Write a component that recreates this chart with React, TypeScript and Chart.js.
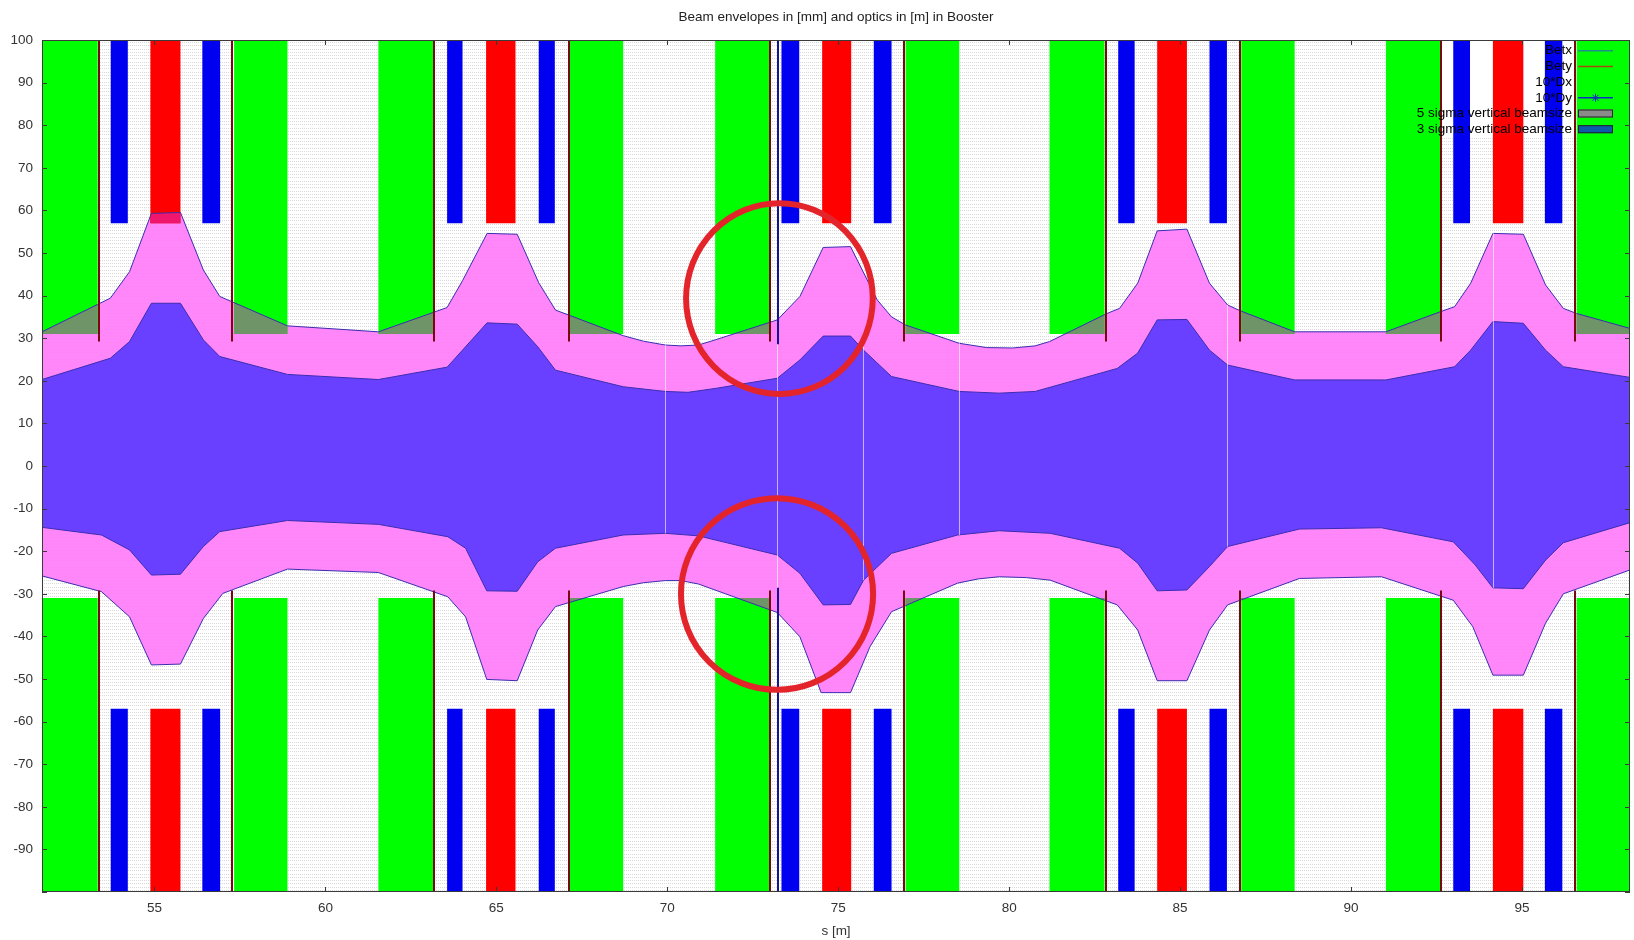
import { useEffect, useRef } from 'react';
import { Chart, registerables } from 'chart.js';

Chart.register(...registerables);

const FONT = "'Liberation Sans', Arial, Helvetica, sans-serif";
const TITLE = 'Beam envelopes in [mm] and optics in [m] in Booster';
const X_LABEL = 's [m]';
const S_MIN = 51.71;
const S_MAX = 98.16;
const Y_MIN = -100;
const Y_MAX = 100;

// 5 sigma vertical beam envelope, upper edge
const U5_S = [51.71, 53.71, 54.27, 54.91, 55.76, 56.43, 56.91, 58.89, 61.55, 63.56, 64.01, 64.73, 65.61, 66.24, 66.73, 68.71, 69.3, 69.94, 70.4, 70.91, 71.4, 73.22, 73.88, 74.56, 75.36, 76.14, 76.56, 76.97, 78.54, 79.34, 80.1, 80.76, 81.18, 82.86, 83.23, 83.76, 84.33, 85.2, 85.86, 86.39, 86.74, 88.35, 91.02, 92.61, 93.03, 93.5, 94.15, 95.04, 95.69, 96.21, 96.6, 98.16];
const U5_V = [31.5, 39.4, 45.6, 59.3, 59.5, 46.0, 39.8, 32.9, 31.5, 37.2, 43.5, 54.6, 54.4, 43.0, 36.6, 30.6, 29.3, 28.4, 28.2, 28.4, 29.6, 34.3, 39.8, 51.3, 51.5, 39.0, 35.0, 33.1, 28.8, 27.8, 27.7, 28.2, 29.2, 35.8, 37.0, 42.9, 55.2, 55.6, 42.9, 37.8, 36.5, 31.5, 31.5, 36.2, 37.4, 42.9, 54.6, 54.4, 42.5, 37.0, 35.8, 32.3];

// 3 sigma vertical beam envelope, upper edge
const U3_S = [51.71, 53.71, 54.27, 54.91, 55.76, 56.43, 56.91, 58.89, 61.55, 63.56, 64.01, 64.73, 65.61, 66.21, 66.73, 68.71, 69.94, 70.61, 71.4, 73.22, 73.88, 74.56, 75.36, 75.74, 76.56, 78.54, 79.71, 80.76, 83.16, 83.76, 84.33, 85.2, 85.86, 86.39, 88.35, 91.02, 93.03, 93.5, 94.15, 95.04, 95.69, 96.21, 98.16];
const U3_V = [20.3, 25.3, 29.2, 38.2, 38.2, 29.6, 25.7, 21.5, 20.3, 23.2, 27.2, 33.6, 33.3, 28.0, 22.5, 18.6, 17.5, 17.3, 18.2, 20.6, 24.9, 30.5, 30.5, 27.2, 21.0, 17.5, 17.1, 17.5, 22.9, 26.5, 34.3, 34.4, 27.2, 23.7, 20.2, 20.2, 23.3, 27.2, 33.9, 33.5, 27.2, 23.3, 20.8];

// 3 sigma vertical beam envelope, lower edge
const L3_S = [51.71, 53.45, 54.27, 54.91, 55.76, 56.43, 56.91, 58.89, 61.55, 63.58, 64.1, 64.72, 65.61, 66.21, 66.73, 68.71, 69.94, 70.91, 73.22, 73.88, 74.56, 75.36, 75.74, 76.56, 78.49, 79.71, 81.2, 83.23, 83.76, 84.33, 85.2, 85.86, 86.39, 88.49, 90.89, 92.99, 93.63, 94.15, 95.04, 95.69, 96.21, 98.16];
const L3_V = [-14.4, -16.2, -19.7, -25.6, -25.4, -18.9, -15.4, -12.8, -13.7, -16.6, -19.3, -29.3, -29.4, -22.5, -19.3, -16.2, -15.8, -16.4, -20.9, -25.2, -32.6, -32.5, -26.8, -20.5, -16.2, -15.2, -15.8, -19.3, -22.8, -29.3, -29.1, -23.6, -18.9, -14.8, -14.5, -17.8, -23.2, -28.6, -28.8, -22.1, -18.0, -13.3];

// 5 sigma vertical beam envelope, lower edge
const L5_S = [51.71, 53.45, 54.27, 54.91, 55.76, 56.43, 57.0, 58.89, 61.55, 63.58, 64.1, 64.72, 65.61, 66.21, 66.73, 68.71, 69.3, 69.94, 70.4, 70.91, 73.22, 73.88, 74.5, 75.36, 75.93, 76.56, 78.49, 79.1, 79.71, 80.5, 81.2, 83.16, 83.76, 84.33, 85.2, 85.86, 86.39, 88.49, 90.89, 92.99, 93.56, 94.15, 95.04, 95.69, 96.21, 98.16];
const L5_V = [-25.8, -29.5, -35.4, -46.7, -46.5, -35.8, -29.9, -24.2, -25.0, -30.7, -35.4, -50.1, -50.4, -38.5, -33.0, -28.3, -27.4, -26.9, -26.9, -27.7, -34.4, -40.1, -53.2, -53.2, -42.4, -34.2, -27.5, -26.5, -26.0, -26.2, -26.8, -32.6, -38.5, -50.4, -50.4, -38.5, -32.6, -26.4, -26.0, -31.5, -37.7, -49.1, -49.1, -36.9, -30.0, -24.4];

// dipoles (green)
const DIPOLE_START = [51.5, 57.33, 61.55, 67.15, 71.4, 76.97, 81.18, 86.79, 91.02, 96.6];
const DIPOLE_END = [53.34, 58.89, 63.15, 68.71, 73.0, 78.54, 82.79, 88.35, 92.61, 98.3];
const DIPOLE_APERTURE = 31;
// focusing quadrupoles (red)
const QF_START = [54.88, 64.7, 74.53, 84.33, 94.15];
const QF_END = [55.76, 65.56, 75.38, 85.2, 95.04];
// defocusing quadrupoles (blue)
const QD_START = [53.72, 56.4, 63.56, 66.24, 73.34, 76.04, 83.19, 85.86, 92.99, 95.67];
const QD_END = [54.22, 56.92, 64.01, 66.71, 73.86, 76.56, 83.67, 86.37, 93.48, 96.18];
const QUAD_APERTURE = 57;
// thin markers (dark red)
const MARKER_S = [53.39, 57.28, 63.18, 67.12, 73.0, 76.91, 82.82, 86.74, 92.64, 96.54];
const MARKER_APERTURE = 29.2;
// kicker (dark blue)
const KICKER_S = [73.25];
const KICKER_APERTURE = 28.6;
// monitors (light lines inside the beam)
const BPM_S = [69.94, 73.2, 75.72, 78.54, 86.37, 94.14];
const BPM_TOP = [28.4, 29.0, 30.0, 28.8, 37.8, 54.6];
const BPM_BOTTOM = [-15.8, -29.0, -26.8, -16.2, -18.9, -28.6];

// highlighted regions (red circles)
const CIRCLE_S = [73.28, 73.21];
const CIRCLE_V = [39.3, -30.05];
const CIRCLE_RS = [2.73, 2.81];
const CIRCLE_RV = [22.4, 22.5];

const LEGEND_LABELS = ['Betx', 'Bety', '10*Dx', '10*Dy', '5 sigma vertical beamsize', '3 sigma vertical beamsize'];
const LEGEND_KIND = ['line', 'line', 'none', 'star', 'box', 'box'];
const LEGEND_COLOR = ['#1e8f8a', '#a84a0c', '#000000', '#1030c0', '#8a8a8a', '#0a5ca8'];

const PINK = 'rgba(255,122,250,0.9)';
const BLUE = 'rgba(96,60,255,0.94)';
const EDGE = '#3b2db0';
const GREEN = '#00ff00';
const OVERLAP_GREEN = '#6e9468';
const RED = '#ff0000';
const OVERLAP_RED = '#f0166e';
const QBLUE = '#0000f0';

const pts = (s: number[], v: number[]) => s.map((x, i) => ({ x, y: v[i] }));

function trace(ctx: CanvasRenderingContext2D, chart: any, S: number[], V: number[], move: boolean) {
  const xs = chart.scales.x;
  const ys = chart.scales.y;
  S.forEach((s, i) => {
    const px = xs.getPixelForValue(s);
    const py = ys.getPixelForValue(V[i]);
    if (i === 0 && move) ctx.moveTo(px, py);
    else ctx.lineTo(px, py);
  });
}

function envelopePolygon(ctx: CanvasRenderingContext2D, chart: any) {
  ctx.beginPath();
  trace(ctx, chart, U5_S, U5_V, true);
  trace(ctx, chart, [...L5_S].reverse(), [...L5_V].reverse(), false);
  ctx.closePath();
}

function strokeEdges(ctx: CanvasRenderingContext2D, chart: any) {
  ctx.beginPath();
  trace(ctx, chart, U5_S, U5_V, true);
  trace(ctx, chart, L5_S, L5_V, true);
  ctx.strokeStyle = EDGE;
  ctx.lineWidth = 1;
  ctx.stroke();
}

function boxes(ctx: CanvasRenderingContext2D, chart: any, starts: number[], ends: number[], aperture: number) {
  const xs = chart.scales.x;
  const ys = chart.scales.y;
  ctx.beginPath();
  starts.forEach((s0, i) => {
    const x0 = xs.getPixelForValue(s0);
    const x1 = xs.getPixelForValue(ends[i]);
    const yTop = ys.getPixelForValue(Y_MAX);
    const yA = ys.getPixelForValue(aperture);
    const yB = ys.getPixelForValue(-aperture);
    const yBot = ys.getPixelForValue(Y_MIN);
    ctx.rect(x0, yTop, x1 - x0, yA - yTop);
    ctx.rect(x0, yB, x1 - x0, yBot - yB);
  });
}

function vlines(ctx: CanvasRenderingContext2D, chart: any, S: number[], aperture: number, color: string) {
  const xs = chart.scales.x;
  const ys = chart.scales.y;
  ctx.strokeStyle = color;
  ctx.lineWidth = 2;
  S.forEach((s) => {
    const px = Math.round(xs.getPixelForValue(s));
    ctx.beginPath();
    ctx.moveTo(px, ys.getPixelForValue(Y_MAX));
    ctx.lineTo(px, ys.getPixelForValue(aperture));
    ctx.moveTo(px, ys.getPixelForValue(-aperture));
    ctx.lineTo(px, ys.getPixelForValue(Y_MIN));
    ctx.stroke();
  });
}

const LEGEND_W = 225;
const LEGEND_H = 97;

const latticePlugin = {
  id: 'lattice',
  beforeDatasetsDraw(chart: any) {
    const { ctx, chartArea: a } = chart;
    ctx.save();
    ctx.fillStyle = '#ffffff';
    ctx.fillRect(a.left, a.top, a.right - a.left, a.bottom - a.top);
    ctx.beginPath();
    ctx.rect(a.left, a.top, a.right - a.left, a.bottom - a.top);
    ctx.clip();
    ctx.strokeStyle = '#d9d9d9';
    ctx.lineWidth = 1;
    ctx.setLineDash([1, 1]);
    const legLeft = a.right - LEGEND_W;
    const legBottom = a.top + LEGEND_H;
    for (let yy = a.top + 2; yy < a.bottom; yy += 3.3) {
      const py = Math.round(yy) + 0.5;
      ctx.beginPath();
      ctx.moveTo(a.left, py);
      ctx.lineTo(py < legBottom ? legLeft : a.right, py);
      ctx.stroke();
    }
    ctx.restore();
  },
  afterDatasetsDraw(chart: any) {
    const { ctx, chartArea: a } = chart;
    const xs = chart.scales.x;
    const ys = chart.scales.y;
    ctx.save();
    ctx.beginPath();
    ctx.rect(a.left, a.top, a.right - a.left, a.bottom - a.top);
    ctx.clip();

    // monitors
    ctx.strokeStyle = 'rgba(255,255,255,0.6)';
    ctx.lineWidth = 1;
    BPM_S.forEach((s, i) => {
      const px = Math.round(xs.getPixelForValue(s)) + 0.5;
      ctx.beginPath();
      ctx.moveTo(px, ys.getPixelForValue(BPM_TOP[i]));
      ctx.lineTo(px, ys.getPixelForValue(BPM_BOTTOM[i]));
      ctx.stroke();
    });

    // dipoles + overlap with 5 sigma envelope
    boxes(ctx, chart, DIPOLE_START, DIPOLE_END, DIPOLE_APERTURE);
    ctx.fillStyle = GREEN;
    ctx.fill();
    ctx.save();
    boxes(ctx, chart, DIPOLE_START, DIPOLE_END, DIPOLE_APERTURE);
    ctx.clip();
    envelopePolygon(ctx, chart);
    ctx.fillStyle = OVERLAP_GREEN;
    ctx.fill();
    strokeEdges(ctx, chart);
    ctx.restore();

    // focusing quads + overlap
    boxes(ctx, chart, QF_START, QF_END, QUAD_APERTURE);
    ctx.fillStyle = RED;
    ctx.fill();
    ctx.save();
    boxes(ctx, chart, QF_START, QF_END, QUAD_APERTURE);
    ctx.clip();
    envelopePolygon(ctx, chart);
    ctx.fillStyle = OVERLAP_RED;
    ctx.fill();
    strokeEdges(ctx, chart);
    ctx.restore();

    // defocusing quads
    boxes(ctx, chart, QD_START, QD_END, QUAD_APERTURE);
    ctx.fillStyle = QBLUE;
    ctx.fill();

    // thin elements
    vlines(ctx, chart, MARKER_S, MARKER_APERTURE, '#7a0610');
    vlines(ctx, chart, KICKER_S, KICKER_APERTURE, '#14148c');
    ctx.restore();

    // frame and inward ticks
    ctx.save();
    ctx.strokeStyle = '#3a3a3a';
    ctx.lineWidth = 1;
    ctx.strokeRect(a.left + 0.5, a.top + 0.5, a.right - a.left - 1, a.bottom - a.top - 1);
    ctx.beginPath();
    xs.ticks.forEach((t: any) => {
      const px = Math.round(xs.getPixelForValue(t.value)) + 0.5;
      ctx.moveTo(px, a.bottom);
      ctx.lineTo(px, a.bottom - 5);
      ctx.moveTo(px, a.top);
      ctx.lineTo(px, a.top + 5);
    });
    ys.ticks.forEach((t: any) => {
      const py = Math.round(ys.getPixelForValue(t.value)) + 0.5;
      ctx.moveTo(a.left, py);
      ctx.lineTo(a.left + 5, py);
      ctx.moveTo(a.right, py);
      ctx.lineTo(a.right - 5, py);
    });
    ctx.stroke();

    // legend
    ctx.font = `13.5px ${FONT}`;
    ctx.textAlign = 'right';
    ctx.textBaseline = 'middle';
    const textRight = a.right - 58;
    const sx0 = a.right - 52;
    const sx1 = a.right - 17;
    LEGEND_LABELS.forEach((label, i) => {
      const cy = a.top + 10.7 + i * 15.7;
      ctx.fillStyle = '#000000';
      ctx.fillText(label, textRight, cy);
      const kind = LEGEND_KIND[i];
      const col = LEGEND_COLOR[i];
      if (kind === 'line' || kind === 'star') {
        ctx.strokeStyle = col;
        ctx.lineWidth = 1.5;
        ctx.beginPath();
        ctx.moveTo(sx0, cy);
        ctx.lineTo(sx1, cy);
        ctx.stroke();
        if (kind === 'star') {
          const cx = (sx0 + sx1) / 2;
          ctx.lineWidth = 1;
          ctx.beginPath();
          ctx.moveTo(cx - 4, cy); ctx.lineTo(cx + 4, cy);
          ctx.moveTo(cx, cy - 4); ctx.lineTo(cx, cy + 4);
          ctx.moveTo(cx - 3, cy - 3); ctx.lineTo(cx + 3, cy + 3);
          ctx.moveTo(cx - 3, cy + 3); ctx.lineTo(cx + 3, cy - 3);
          ctx.stroke();
        }
      } else if (kind === 'box') {
        ctx.fillStyle = col;
        ctx.fillRect(sx0, cy - 4, sx1 - sx0, 8);
        ctx.strokeStyle = '#222';
        ctx.lineWidth = 1;
        ctx.strokeRect(sx0 + 0.5, cy - 3.5, sx1 - sx0 - 1, 7);
      }
    });

    // red circles
    ctx.strokeStyle = '#e3242b';
    ctx.lineWidth = 6;
    CIRCLE_S.forEach((s, i) => {
      const cx = xs.getPixelForValue(s);
      const cy = ys.getPixelForValue(CIRCLE_V[i]);
      const rx = Math.abs(xs.getPixelForValue(s + CIRCLE_RS[i]) - cx);
      const ry = Math.abs(ys.getPixelForValue(CIRCLE_V[i] + CIRCLE_RV[i]) - cy);
      ctx.beginPath();
      ctx.ellipse(cx, cy, rx, ry, 0, 0, Math.PI * 2);
      ctx.stroke();
    });
    ctx.restore();
  },
};

export default function App() {
  const ref = useRef<HTMLCanvasElement>(null);
  useEffect(() => {
    const base = { pointRadius: 0, borderWidth: 1, borderColor: EDGE, fill: 'origin' as const, tension: 0 };
    const chart = new Chart(ref.current as HTMLCanvasElement, {
      type: 'line',
      data: {
        datasets: [
          { ...base, label: '5 sigma upper', data: pts(U5_S, U5_V), backgroundColor: PINK, order: 2 },
          { ...base, label: '5 sigma lower', data: pts(L5_S, L5_V), backgroundColor: PINK, order: 2 },
          { ...base, label: '3 sigma upper', data: pts(U3_S, U3_V), backgroundColor: BLUE, order: 1 },
          { ...base, label: '3 sigma lower', data: pts(L3_S, L3_V), backgroundColor: BLUE, order: 1 },
        ],
      },
      options: {
        responsive: false,
        animation: false,
        events: [],
        layout: { padding: { top: 0, right: 4, bottom: 0, left: 0 } },
        plugins: {
          legend: { display: false },
          tooltip: { enabled: false },
          title: {
            display: true,
            text: TITLE,
            fullSize: false,
            color: '#222',
            font: { family: FONT, size: 13.5, weight: 'normal' },
            padding: { top: 8.9, bottom: 14.9 },
          },
        },
        scales: {
          x: {
            type: 'linear',
            min: S_MIN,
            max: S_MAX,
            afterFit: (s: any) => { s.height = 48; },
            grid: { display: false, drawTicks: false },
            border: { display: false },
            ticks: {
              stepSize: 5,
              includeBounds: false,
              maxRotation: 0,
              autoSkip: false,
              padding: 8,
              color: '#333',
              font: { family: FONT, size: 13.5 },
            },
            title: {
              display: true,
              text: X_LABEL,
              color: '#333',
              font: { family: FONT, size: 13.5 },
              padding: { top: 0, bottom: 1 },
            },
          },
          y: {
            type: 'linear',
            min: Y_MIN,
            max: Y_MAX,
            afterFit: (s: any) => { s.width = 42; },
            grid: { display: false, drawTicks: false },
            border: { display: false },
            ticks: {
              stepSize: 10,
              padding: 9,
              color: '#333',
              font: { family: FONT, size: 13.5 },
              callback: (v: any) => (v === Y_MIN ? '' : String(v)),
            },
          },
        },
      },
      plugins: [latticePlugin],
    });
    return () => chart.destroy();
  }, []);
  return (
    <div style={{ position: 'fixed', left: 0, top: 0, width: 1634, height: 940, background: '#fff' }}>
      <canvas ref={ref} width={1634} height={940} style={{ display: 'block' }} />
    </div>
  );
}
